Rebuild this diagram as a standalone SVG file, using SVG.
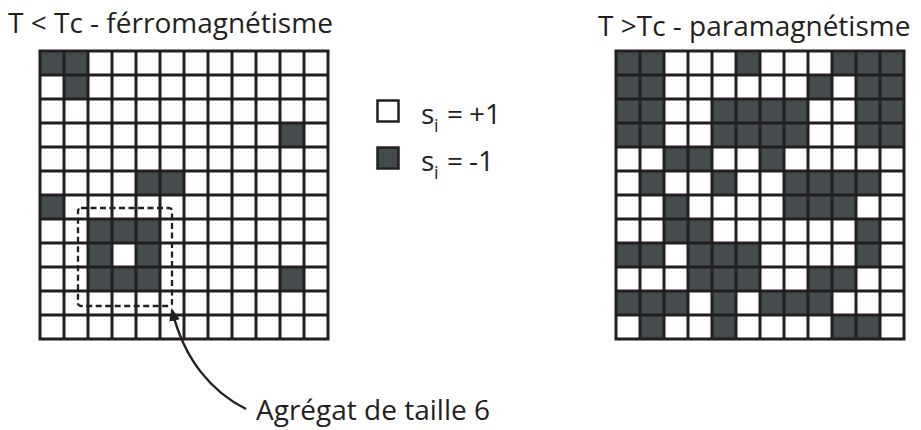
<svg xmlns="http://www.w3.org/2000/svg" xmlns:xlink="http://www.w3.org/1999/xlink" width="921" height="430" viewBox="0 0 921 430">
  <style>
    text { font-family: "Open Sans", "Noto Sans", sans-serif; fill: #231f20; }
    .t { font-size: 28px; }
    .dk { fill: #434b4d; }
    .bg { fill: #ffffff; }
    .grid { fill: none; stroke: #231f20; stroke-width: 3; }
    .leg { stroke: #231f20; stroke-width: 2.5; }
    .sub { font-size: 18px; }
  </style>
  <defs>
    <path id="lines" class="grid" d="M40 51V339M64 51V339M88 51V339M112 51V339M136 51V339M160 51V339M184 51V339M208 51V339M232 51V339M256 51V339M280 51V339M304 51V339M328 51V339M38.5 51H329.5M40 75H328M40 99H328M40 123H328M40 147H328M40 171H328M40 195H328M40 219H328M40 243H328M40 267H328M40 291H328M40 315H328M38.5 339H329.5"/>
    <marker id="ah" markerWidth="13" markerHeight="13" refX="10" refY="5" orient="auto" markerUnits="userSpaceOnUse" viewBox="0 0 12 10">
      <path d="M0 0L12 5L0 10Z" fill="#231f20"/>
    </marker>
  </defs>

  <text class="t" x="8" y="33">T &lt; Tc - férromagnétisme</text>
  <text class="t" x="598" y="36">T &gt;Tc - paramagnétisme</text>

  <g id="grid-ferro">
    <rect class="bg" x="40" y="51" width="288" height="288"/>
    <g class="dk">
      <rect x="40" y="51" width="24" height="24"/><rect x="64" y="51" width="24" height="24"/>
      <rect x="64" y="75" width="24" height="24"/>
      <rect x="280" y="123" width="24" height="24"/>
      <rect x="136" y="171" width="24" height="24"/><rect x="160" y="171" width="24" height="24"/>
      <rect x="40" y="195" width="24" height="24"/>
      <rect x="88" y="219" width="24" height="24"/><rect x="112" y="219" width="24" height="24"/><rect x="136" y="219" width="24" height="24"/>
      <rect x="88" y="243" width="24" height="24"/><rect x="136" y="243" width="24" height="24"/>
      <rect x="88" y="267" width="24" height="24"/><rect x="112" y="267" width="24" height="24"/><rect x="136" y="267" width="24" height="24"/>
      <rect x="280" y="267" width="24" height="24"/>
    </g>
    <use xlink:href="#lines"/>
  </g>

  <g id="grid-para">
    <rect class="bg" x="616" y="51" width="288" height="288"/>
    <g class="dk" transform="translate(576,0)">
      <rect x="40" y="51" width="24" height="24"/><rect x="64" y="51" width="24" height="24"/><rect x="160" y="51" width="24" height="24"/><rect x="256" y="51" width="24" height="24"/><rect x="280" y="51" width="24" height="24"/><rect x="304" y="51" width="24" height="24"/>
      <rect x="40" y="75" width="24" height="24"/><rect x="64" y="75" width="24" height="24"/><rect x="232" y="75" width="24" height="24"/><rect x="280" y="75" width="24" height="24"/><rect x="304" y="75" width="24" height="24"/>
      <rect x="40" y="99" width="24" height="24"/><rect x="64" y="99" width="24" height="24"/><rect x="136" y="99" width="96" height="24"/><rect x="280" y="99" width="24" height="24"/><rect x="304" y="99" width="24" height="24"/>
      <rect x="40" y="123" width="24" height="24"/><rect x="64" y="123" width="24" height="24"/><rect x="136" y="123" width="96" height="24"/><rect x="280" y="123" width="24" height="24"/><rect x="304" y="123" width="24" height="24"/>
      <rect x="88" y="147" width="24" height="24"/><rect x="112" y="147" width="24" height="24"/><rect x="184" y="147" width="24" height="24"/>
      <rect x="64" y="171" width="24" height="24"/><rect x="136" y="171" width="24" height="24"/><rect x="208" y="171" width="96" height="24"/>
      <rect x="88" y="195" width="24" height="24"/><rect x="208" y="195" width="72" height="24"/>
      <rect x="88" y="219" width="24" height="24"/><rect x="112" y="219" width="24" height="24"/><rect x="280" y="219" width="24" height="24"/>
      <rect x="40" y="243" width="48" height="24"/><rect x="112" y="243" width="72" height="24"/><rect x="280" y="243" width="24" height="24"/>
      <rect x="112" y="267" width="72" height="24"/><rect x="232" y="267" width="48" height="24"/>
      <rect x="40" y="291" width="72" height="24"/><rect x="136" y="291" width="24" height="24"/><rect x="184" y="291" width="72" height="24"/>
      <rect x="64" y="315" width="24" height="24"/><rect x="136" y="315" width="24" height="24"/><rect x="256" y="315" width="48" height="24"/>
    </g>
    <use xlink:href="#lines" transform="translate(576,0)"/>
  </g>

  <g id="legend-plus">
    <rect class="leg" x="377.5" y="100.5" width="21" height="21" fill="#ffffff"/>
    <text class="t" x="421" y="124">s<tspan class="sub" x="434" dy="8">i</tspan><tspan x="447" dy="-8">=</tspan><tspan x="469">+1</tspan></text>
  </g>
  <g id="legend-minus">
    <rect class="leg dk" x="377.5" y="147.5" width="21" height="21"/>
    <text class="t" x="421" y="171">s<tspan class="sub" x="434" dy="8">i</tspan><tspan x="447" dy="-8">=</tspan><tspan x="469">-1</tspan></text>
  </g>

  <g id="aggregate">
    <rect x="78" y="208" width="94" height="98" rx="3" fill="none" stroke="#231f20" stroke-width="2.3" stroke-dasharray="6 3.5"/>
    <text class="t" x="256" y="420">Agrégat de taille 6</text>
  </g>

  <g id="connectors">
    <path d="M246 409C212 392 184 360 172 310" fill="none" stroke="#231f20" stroke-width="2.4" marker-end="url(#ah)"/>
  </g>
</svg>
